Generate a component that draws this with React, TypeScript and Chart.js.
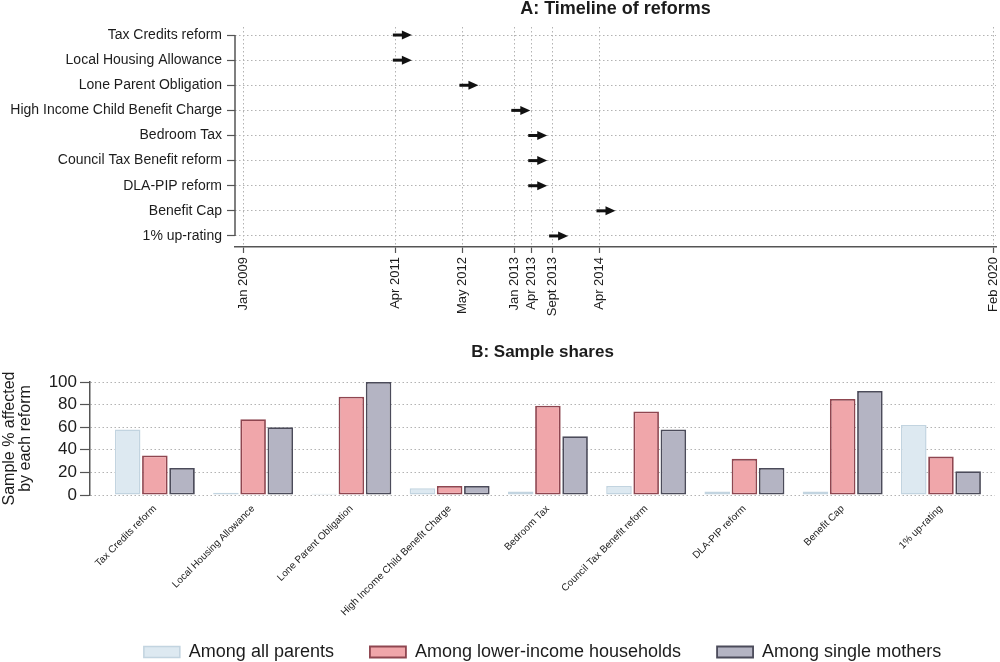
import React, { useEffect, useRef } from "react";
import { Chart, registerables } from "chart.js";
Chart.register(...registerables);

const FONT = "'Liberation Sans', Arial, Helvetica, sans-serif";

// Panel A: timeline
const reforms = [
  "Tax Credits reform",
  "Local Housing Allowance",
  "Lone Parent Obligation",
  "High Income Child Benefit Charge",
  "Bedroom Tax",
  "Council Tax Benefit reform",
  "DLA-PIP reform",
  "Benefit Cap",
  "1% up-rating",
];
// months since Jan 2009
const reformStartMonths = [27.1, 27.1, 38.9, 48.1, 51.1, 51.1, 51.1, 63.2, 54.8];
const timelineTickMonths = [0, 27.1, 38.9, 48.1, 51.1, 54.8, 63.2, 133];
const timelineTickLabels = [
  "Jan 2009",
  "Apr 2011",
  "May 2012",
  "Jan 2013",
  "Apr 2013",
  "Sept 2013",
  "Apr 2014",
  "Feb 2020",
];

// Panel B: sample shares
const seriesNames = [
  "Among all parents",
  "Among lower-income households",
  "Among single mothers",
];
const allParents = [58, 2, 1, 6, 3, 8, 3, 3, 62];
const lowerIncome = [35, 67, 87, 8, 79, 74, 32, 85, 34];
const singleMothers = [24, 60, 100, 8, 52, 58, 24, 92, 21];
const shareTicks = [0, 20, 40, 60, 80, 100];

const GRID = "#b3b3b3";
const AXIS = "#555555";
const TEXT = "#1c1c1c";

const arrowPlugin = {
  id: "reformArrows",
  afterDatasetsDraw(chart: any) {
    const meta = chart.getDatasetMeta(0);
    const ctx = chart.ctx;
    ctx.save();
    ctx.fillStyle = "#111";
    ctx.strokeStyle = "#111";
    meta.data.forEach((pt: any) => {
      const x = pt.x;
      const y = pt.y;
      ctx.lineWidth = 3;
      ctx.beginPath();
      ctx.moveTo(x - 3, y);
      ctx.lineTo(x + 8, y);
      ctx.stroke();
      ctx.beginPath();
      ctx.moveTo(x + 6, y - 4.5);
      ctx.lineTo(x + 16, y);
      ctx.lineTo(x + 6, y + 4.5);
      ctx.closePath();
      ctx.fill();
    });
    ctx.restore();
  },
};

const bracketPlugin = {
  id: "yBracket",
  afterDraw(chart: any) {
    const ys = chart.scales.y;
    const x = chart.chartArea.left;
    const ctx = chart.ctx;
    ctx.save();
    ctx.strokeStyle = AXIS;
    ctx.lineWidth = 1.5;
    ctx.beginPath();
    ctx.moveTo(x, ys.getPixelForValue(0));
    ctx.lineTo(x, ys.getPixelForValue(reforms.length - 1));
    ctx.stroke();
    ctx.restore();
  },
};

// let the long rotated category labels run into the legend band without clipping
const labelRoomPlugin = {
  id: "labelRoom",
  afterLayout(chart: any) {
    const xs = chart.scales.x;
    if (xs) xs.bottom = chart.height;
  },
};

export default function App() {
  const topRef = useRef<HTMLCanvasElement>(null);
  const botRef = useRef<HTMLCanvasElement>(null);

  useEffect(() => {
    const top = new Chart(topRef.current as HTMLCanvasElement, {
      type: "scatter",
      data: {
        datasets: [
          {
            label: "Start",
            data: reforms.map((_, i) => ({ x: reformStartMonths[i], y: i })),
            pointRadius: 0,
            showLine: false,
          },
        ],
      },
      options: {
        responsive: false,
        animation: false,
        layout: { padding: { left: 0, right: 4, top: 0, bottom: 0 } },
        plugins: {
          legend: { display: false },
          tooltip: { enabled: false },
          title: {
            display: true,
            text: "A: Timeline of reforms",
            fullSize: false,
            color: TEXT,
            font: { family: FONT, size: 18, weight: "bold", lineHeight: 1 },
            padding: { top: 0, bottom: 9 },
          },
        },
        scales: {
          x: {
            type: "linear",
            min: -1.42,
            max: 133.5,
            afterBuildTicks: (s: any) => {
              s.ticks = timelineTickMonths.map((v) => ({ value: v }));
            },
            afterFit: (s: any) => {
              s.height = 78;
              s.paddingLeft = 0;
              s.paddingRight = 0;
            },
            ticks: {
              autoSkip: false,
              minRotation: 90,
              maxRotation: 90,
              padding: 4,
              color: TEXT,
              font: { family: FONT, size: 13 },
              callback: (_v: any, i: number) => timelineTickLabels[i],
            },
            grid: {
              color: GRID,
              lineWidth: 1,
              tickColor: AXIS,
              tickLength: 6,
              tickWidth: 1.2,
              tickBorderDash: [],
            },
            border: { display: true, color: AXIS, width: 1.5, dash: [1.5, 2.5] },
          },
          y: {
            type: "linear",
            reverse: true,
            min: -0.32,
            max: 8.44,
            afterBuildTicks: (s: any) => {
              s.ticks = reforms.map((_, i) => ({ value: i }));
            },
            afterFit: (s: any) => {
              s.width = 235;
            },
            ticks: {
              autoSkip: false,
              padding: 5,
              color: TEXT,
              font: { family: FONT, size: 14 },
              callback: (_v: any, i: number) => reforms[i],
            },
            grid: {
              color: GRID,
              lineWidth: 1,
              tickColor: AXIS,
              tickLength: 8,
              tickWidth: 1.2,
              tickBorderDash: [],
            },
            border: { display: false, dash: [1.5, 2.5] },
          },
        },
      } as any,
      plugins: [arrowPlugin, bracketPlugin],
    });

    const mk = (vals: number[]) => vals.map((v, i) => ({ x: i, y: v }));
    const bottom = new Chart(botRef.current as HTMLCanvasElement, {
      type: "bar",
      data: {
        datasets: [
          {
            label: seriesNames[0],
            data: mk(allParents),
            backgroundColor: "#dde9f1",
            borderColor: "#c2d4e0",
            borderWidth: 1.5,
            borderSkipped: false,
          },
          {
            label: seriesNames[1],
            data: mk(lowerIncome),
            backgroundColor: "#f0a6aa",
            borderColor: "#8f4650",
            borderWidth: 1.8,
            borderSkipped: false,
          },
          {
            label: seriesNames[2],
            data: mk(singleMothers),
            backgroundColor: "#b4b4c3",
            borderColor: "#4b4b5a",
            borderWidth: 1.8,
            borderSkipped: false,
          },
        ] as any,
      },
      options: {
        responsive: false,
        animation: false,
        layout: { padding: { left: 0, right: 5, top: 0, bottom: 0 } },
        datasets: { bar: { categoryPercentage: 0.83, barPercentage: 0.94 } },
        plugins: {
          tooltip: { enabled: false },
          title: {
            display: true,
            text: "B: Sample shares",
            fullSize: false,
            color: TEXT,
            font: { family: FONT, size: 17, weight: "bold", lineHeight: 1 },
            padding: { top: 18.5, bottom: 21.5 },
          },
          legend: {
            position: "bottom",
            fullSize: false,
            labels: {
              boxWidth: 36,
              boxHeight: 11,
              padding: 36,
              color: TEXT,
              font: { family: FONT, size: 18 },
            },
          },
        },
        scales: {
          x: {
            type: "linear",
            min: -0.66,
            max: 8.55,
            offset: false,
            afterBuildTicks: (s: any) => {
              s.ticks = reforms.map((_, i) => ({ value: i }));
            },
            afterFit: (s: any) => {
              s.height = 112;
              s.paddingLeft = 0;
              s.paddingRight = 0;
            },
            ticks: {
              autoSkip: false,
              minRotation: 45,
              maxRotation: 45,
              padding: 0,
              color: TEXT,
              font: { family: FONT, size: 10 },
              callback: (_v: any, i: number) => reforms[i],
            },
            grid: { display: false, offset: false },
            border: { display: false },
          },
          y: {
            type: "linear",
            min: 0,
            max: 100,
            afterBuildTicks: (s: any) => {
              s.ticks = shareTicks.map((v) => ({ value: v }));
            },
            afterFit: (s: any) => {
              s.width = 90;
            },
            ticks: {
              autoSkip: false,
              padding: 3,
              color: TEXT,
              font: { family: FONT, size: 17 },
            },
            grid: {
              color: GRID,
              lineWidth: 1,
              tickColor: AXIS,
              tickLength: 10,
              tickWidth: 1.2,
              tickBorderDash: [],
            },
            border: { display: true, color: AXIS, width: 1.5, dash: [1.5, 2.5] },
            title: {
              display: true,
              text: ["Sample % affected", "by each reform"],
              color: TEXT,
              font: { family: FONT, size: 16, lineHeight: 1 },
              padding: { top: 2, bottom: 0 },
            },
          },
        },
      } as any,
      plugins: [labelRoomPlugin],
    });

    return () => {
      top.destroy();
      bottom.destroy();
    };
  }, []);

  return (
    <div
      style={{
        position: "absolute",
        left: 0,
        top: 0,
        width: 1000,
        height: 662,
        overflow: "hidden",
        background: "#fff",
      }}
    >
      <canvas
        ref={topRef}
        width={1000}
        height={325}
        style={{ position: "absolute", left: 0, top: 0 }}
      />
      <canvas
        ref={botRef}
        width={1000}
        height={346}
        style={{ position: "absolute", left: 0, top: 325 }}
      />
    </div>
  );
}
